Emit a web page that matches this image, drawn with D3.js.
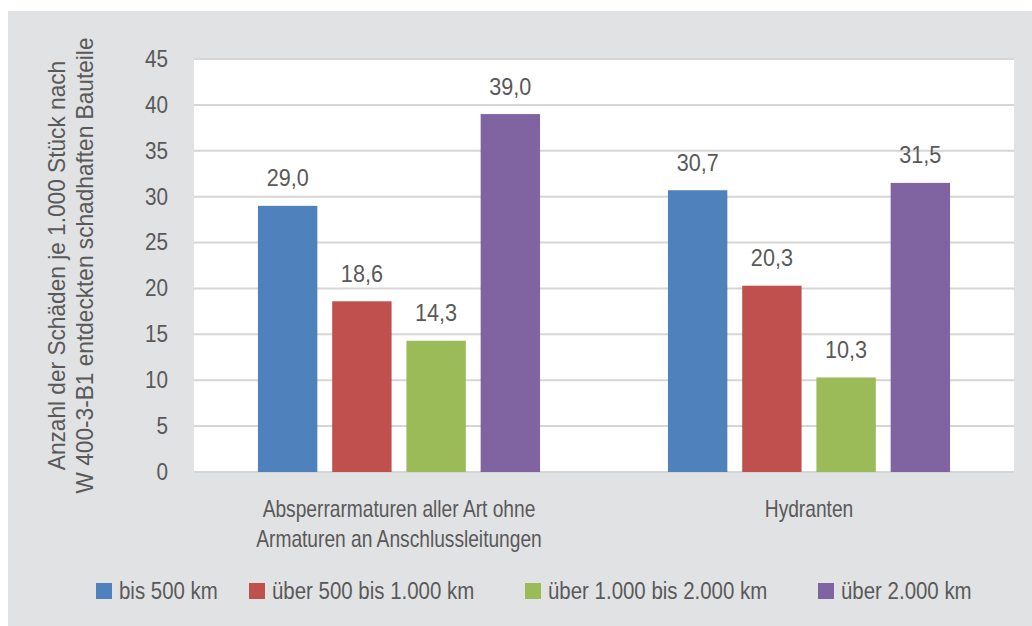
<!DOCTYPE html>
<html>
<head>
<meta charset="utf-8">
<script src="https://cdn.jsdelivr.net/npm/d3@7"></script>
<style>
  html, body { margin: 0; padding: 0; background: #ffffff; }
  svg { display: block; }
  text { font-family: "Liberation Sans", Arial, sans-serif; fill: #595959; }
</style>
</head>
<body>
<svg id="chart" width="1032" height="626"></svg>
<script>
// Schadensrate je Netzlänge, gruppiert nach Bauteil
const categories = [
  ["Absperrarmaturen aller Art ohne", "Armaturen an Anschlussleitungen"],
  ["Hydranten"]
];
const seriesNames = ["bis 500 km", "über 500 bis 1.000 km", "über 1.000 bis 2.000 km", "über 2.000 km"];
const seriesColors = ["#4f81bd", "#c0504d", "#9bbb59", "#8064a2"];
// values[category][series]
const values = [
  [29.0, 18.6, 14.3, 39.0],
  [30.7, 20.3, 10.3, 31.5]
];
const yTicks = [0, 5, 10, 15, 20, 25, 30, 35, 40, 45];
const yTitle = ["Anzahl der Schäden je 1.000 Stück nach", "W 400-3-B1 entdeckten schadhaften Bauteile"];

// condensed look: compress glyphs horizontally around each text's anchor point
function squeeze(sel, k) {
  sel.each(function () {
    const t = d3.select(this);
    const x = +t.attr("x") || 0;
    const y = +t.attr("y") || 0;
    const prev = t.attr("transform") || "";
    t.attr("x", 0).attr("y", 0)
     .attr("transform", `${prev} translate(${x},${y}) scale(${k},1)`);
  });
}

const svg = d3.select("#chart");

// grey card
svg.append("rect").attr("x", 8).attr("y", 11).attr("width", 1024).attr("height", 615).attr("fill", "#e1e2e4");

const plot = { left: 194, right: 1014, top: 59, bottom: 472 };

svg.append("rect")
  .attr("x", plot.left).attr("y", plot.top)
  .attr("width", plot.right - plot.left).attr("height", plot.bottom - plot.top)
  .attr("fill", "#ffffff");

const y = d3.scaleLinear().domain([0, 45]).range([plot.bottom, plot.top]);

const x0 = d3.scaleBand()
  .domain(d3.range(categories.length))
  .range([plot.left, plot.right])
  .paddingInner(0.312)
  .paddingOuter(0.156);

const x1 = d3.scaleBand()
  .domain(d3.range(seriesNames.length))
  .range([0, x0.bandwidth()])
  .paddingInner(0.2);

// gridlines
svg.append("g")
  .selectAll("line")
  .data(yTicks)
  .join("line")
  .attr("x1", plot.left).attr("x2", plot.right)
  .attr("y1", d => y(d)).attr("y2", d => y(d))
  .attr("stroke", "#d6d6d6").attr("stroke-width", 2);

// y axis labels
const yAxis = d3.axisLeft(y).tickValues(yTicks).tickSize(0).tickPadding(26);
const gy = svg.append("g").attr("transform", `translate(${plot.left},0)`).call(yAxis);
gy.select(".domain").remove();
gy.selectAll("text")
  .attr("font-size", 23)
  .attr("fill", "#595959")
  .style("font-family", "'Liberation Sans', Arial, sans-serif")
  .call(squeeze, 0.9);

// bars
const groups = svg.append("g")
  .selectAll("g")
  .data(values)
  .join("g")
  .attr("transform", (d, i) => `translate(${x0(i)},0)`);

groups.selectAll("rect")
  .data(d => d)
  .join("rect")
  .attr("x", (d, j) => x1(j))
  .attr("width", x1.bandwidth())
  .attr("y", d => y(d))
  .attr("height", d => y(0) - y(d))
  .attr("fill", (d, j) => seriesColors[j]);

// value labels
const fmt = v => d3.format(".1f")(v).replace(".", ",");
groups.selectAll("text")
  .data(d => d)
  .join("text")
  .attr("x", (d, j) => x1(j) + x1.bandwidth() / 2)
  .attr("y", d => y(d) - 19.5)
  .attr("text-anchor", "middle")
  .attr("font-size", 24)
  .text(d => fmt(d))
  .call(squeeze, 0.9);

// category labels
svg.append("g")
  .selectAll("text")
  .data(categories)
  .join("text")
  .attr("text-anchor", "middle")
  .attr("font-size", 23)
  .attr("x", (d, i) => x0(i) + x0.bandwidth() / 2)
  .attr("y", 517)
  .call(squeeze, 0.834)
  .selectAll("tspan")
  .data(d => d)
  .join("tspan")
  .attr("x", 0)
  .attr("y", (d, k) => k * 30)
  .text(d => d);

// y axis title
svg.append("text")
  .attr("transform", `translate(65,${(plot.top + plot.bottom) / 2}) rotate(-90)`)
  .attr("text-anchor", "middle")
  .attr("font-size", 24)
  .call(squeeze, 0.945)
  .selectAll("tspan")
  .data(yTitle)
  .join("tspan")
  .attr("x", 0)
  .attr("y", (d, k) => k * 28)
  .text(d => d);

// legend
const legendX = [96, 249, 525, 818];
const legend = svg.append("g")
  .selectAll("g")
  .data(seriesNames)
  .join("g")
  .attr("transform", (d, i) => `translate(${legendX[i]},583)`);
legend.append("rect")
  .attr("width", 16).attr("height", 16)
  .attr("fill", (d, i) => seriesColors[i]);
legend.append("text")
  .attr("x", 23).attr("y", 15.5)
  .attr("font-size", 24.5)
  .text(d => d)
  .call(squeeze, 0.835);
</script>
</body>
</html>
